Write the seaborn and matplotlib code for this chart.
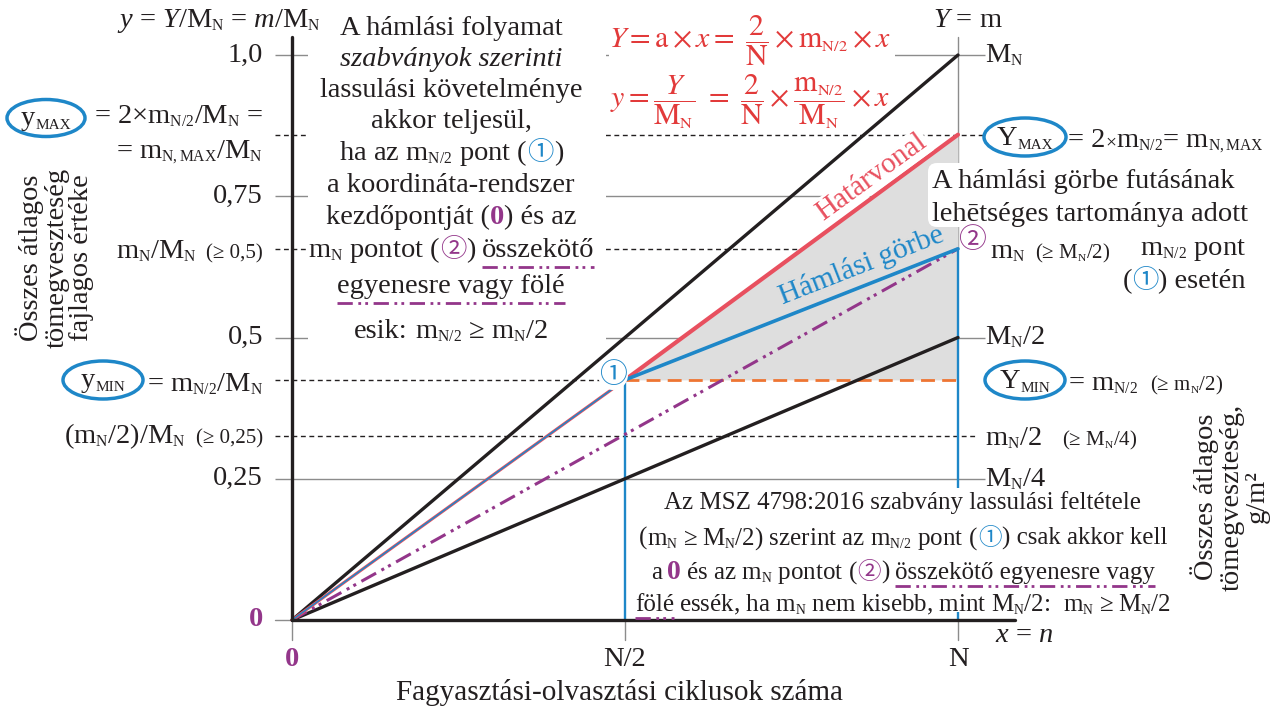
import numpy as np
import pandas as pd
import seaborn as sns
import matplotlib
matplotlib.use("Agg")
import matplotlib.pyplot as plt
import matplotlib._mathtext as _mt
from matplotlib.patches import Ellipse, Rectangle, FancyBboxPatch
from matplotlib.transforms import Affine2D

# ---------------- data ----------------
x_ticks = [0.0, 0.5, 1.0]
x_tick_labels = ["0", "N/2", "N"]
y_grid = [1.0, 0.75, 0.5, 0.25]
y_grid_labels = ["1,0", "0,75", "0,5", "0,25"]
y_grid_right = [r"M$_\mathrm{N}$", None, r"M$_\mathrm{N}$/2", r"M$_\mathrm{N}$/4"]
y_half = 0.425      # y_MIN = m_N/2 / M_N   (point 1)
y_full = 0.657      # m_N / M_N             (point 2)
y_max = 0.859       # y_MAX = 2 m_N/2 / M_N
y_quarter = 0.325   # (m_N/2) / M_N
curve_x = [0.0, 0.5, 1.0]          # Hámlási görbe
curve_y = [0.0, 0.425, 0.657]
limit_x = [0.0, 0.5, 1.0]          # Határvonal
limit_y = [0.0, 0.425, 0.859]
ref_x = [0.0, 1.0]
ref_hi_y = [0.0, 1.0]              # 0 -> M_N
ref_lo_y = [0.0, 0.5]              # 0 -> M_N/2
chord_y = [0.0, 0.657]             # 0 -> point 2

# ---------------- style ----------------
sns.set_theme(style="white")
SERIF = ["Liberation Serif", "DejaVu Serif"]
CJK = ["Noto Sans CJK JP", "DejaVu Sans"]
plt.rcParams["font.family"] = SERIF
plt.rcParams["mathtext.fontset"] = "custom"
plt.rcParams["mathtext.rm"] = "Liberation Serif"
plt.rcParams["mathtext.it"] = "Liberation Serif:italic"
plt.rcParams["mathtext.bf"] = "Liberation Serif:bold"
_mt.SHRINK_FACTOR = 0.55   # small subscripts as in the original drawing

INK = "#231f20"
GREY = "#8c8c8c"
BLUE = "#1e87c8"
RED = "#e8505f"
FRED = "#e23a3a"
PURPLE = "#93368a"
ORANGE = "#ee7533"
FILL = "#dedede"
MF = 20.5
SF = 15
DDOT = (0, (5.5, 2, 1, 1.5, 1, 2))
DASH = (0, (3.5, 2.6))

W, H = 1285, 710
fig = plt.figure(figsize=(W / 100, H / 100), dpi=100)
ax = fig.add_axes([0, 0, 1, 1])
ox, oy, sx, sy = 292, 620, 666, 565
PX = Affine2D().scale(1, -1).translate(0, H)   # pixel coords, origin top-left


def dx(p):
    return (p - ox) / sx


def dy(p):
    return (oy - p) / sy


# ---------------- grid / reference lines ----------------
ax.hlines(y_grid, dx(275), dx(985), color=GREY, lw=1.0, zorder=1)
ax.plot([dx(275), dx(985)], [y_max, y_max], color=INK, lw=1.0, ls=DASH, zorder=1)
ax.plot([dx(275), 1.0], [y_full, y_full], color=INK, lw=1.0, ls=DASH, zorder=1)
ax.plot([dx(275), 0.5], [y_half, y_half], color=INK, lw=1.0, ls=DASH, zorder=1)
ax.plot([dx(275), dx(975)], [y_quarter, y_quarter], color=INK, lw=1.0, ls=DASH, zorder=1)
ax.plot([0.5, 1.0], [y_half, y_half], color=ORANGE, lw=2.0, ls=(0, (5, 2.6)), zorder=3.2)
for xv in x_ticks:
    ax.plot([xv, xv], [0, dy(640)], color=GREY, lw=1.0, zorder=1)
ax.plot([dx(275), 0], [0, 0], color=GREY, lw=1.0, zorder=1)
ax.plot([1.0, 1.0], [y_full, dy(37)], color=GREY, lw=1.0, zorder=1)

# possible range of the curve
ax.fill_between(limit_x[1:], y_half, limit_y[1:], color=FILL, lw=0, zorder=1.5)

# white backgrounds of the text blocks
ax.add_patch(Rectangle((308, 5), 298, 345, transform=PX, fc="white", ec="none", zorder=2))
ax.add_patch(Rectangle((609, 6), 286, 126, transform=PX, fc="white", ec="none", zorder=2))
ax.add_patch(FancyBboxPatch((928, 163), 316, 64, boxstyle="round,pad=0,rounding_size=9",
                            transform=PX, fc="white", ec="none", zorder=2))
ax.add_patch(Rectangle((630, 488), 550, 124, transform=PX, fc="white", ec="none", zorder=3.5))

# ---------------- data lines (seaborn) ----------------
sns.lineplot(x=ref_x, y=ref_hi_y, color=INK, lw=2.4, sort=False, estimator=None, ax=ax, zorder=4)
sns.lineplot(x=ref_x, y=ref_lo_y, color=INK, lw=2.4, sort=False, estimator=None, ax=ax, zorder=4)
ax.plot(ref_x, chord_y, color=PURPLE, lw=2.2, ls=DDOT, zorder=4)
sns.lineplot(x=limit_x[:2], y=limit_y[:2], color=RED, lw=2.2, sort=False, estimator=None, ax=ax, zorder=4.1)
sns.lineplot(x=limit_x[1:], y=limit_y[1:], color=RED, lw=3.0, sort=False, estimator=None, ax=ax, zorder=4.1)
sns.lineplot(x=curve_x[:2], y=curve_y[:2], color=BLUE, lw=1.1, sort=False, estimator=None, ax=ax, zorder=4.2)
sns.lineplot(x=curve_x[1:], y=curve_y[1:], color=BLUE, lw=2.6, sort=False, estimator=None, ax=ax, zorder=4.2)
ax.plot([0, dx(1015)], [0, 0], color=INK, lw=2.4, zorder=4.5)
ax.plot([0, 0], [0, dy(37)], color=INK, lw=2.4, zorder=4.5)
ax.plot([0.5, 0.5], [0, y_half], color=BLUE, lw=1.7, zorder=3)
ax.plot([1.0, 1.0], [0, y_full], color=BLUE, lw=1.7, zorder=3)

# ---------------- text helpers ----------------
R = fig.canvas.get_renderer()


def G(px):
    return (None, {"gap": px})


def rich(parts, x, y, ha="center", fs=MF, ul_off=10, zorder=6):
    items = []
    for s, kw in parts:
        if s is None:
            items.append((None, kw["gap"], kw))
            continue
        t = ax.text(0, y + kw.get("dy", 0), s, transform=PX, fontsize=kw.get("fs", fs),
                    color=kw.get("color", INK), fontweight=kw.get("weight", "normal"),
                    fontstyle=kw.get("style", "normal"), family=kw.get("family", SERIF),
                    ha="left", va="baseline", zorder=zorder)
        w = t.get_window_extent(R).width
        items.append((t, w, kw))
    total = sum(w for _, w, _ in items)
    cur = {"center": x - total / 2, "right": x - total, "left": x}[ha]
    for t, w, kw in items:
        if t is not None:
            t.set_x(cur)
            if kw.get("ul"):
                ax.plot([cur, cur + w], [y + ul_off] * 2, transform=PX, color=PURPLE,
                        lw=2.0, ls=DDOT, zorder=zorder)
        cur += w


def txt(x, y, s, **kw):
    kw.setdefault("fontsize", MF)
    kw.setdefault("color", INK)
    kw.setdefault("zorder", 6)
    return ax.text(x, y, s, transform=PX, **kw)


C1 = {"color": BLUE, "family": CJK, "fs": 19}
C2 = {"color": PURPLE, "family": CJK, "fs": 19}
Z0 = {"color": PURPLE, "weight": "bold"}
UL = {"ul": True}
SUB = {"fs": 11, "dy": 4}

# ---------------- left text block ----------------
block = [
    ([("A hámlási folyamat", {})], 35),
    ([("szabványok szerinti", {"style": "italic"})], 66),
    ([("lassulási követelménye", {})], 97),
    ([("akkor teljesül,", {})], 128),
    ([(r"ha az m$_\mathrm{N/2}$ pont (", {}), ("①", C1), (")", {})], 160),
    ([("a koordináta-rendszer", {})], 192),
    ([("kezdőpontját (", {}), ("0", Z0), (") és az", {})], 224),
    ([(r"m$_\mathrm{N}$ pontot (", {}), ("②", C2), (")", {}), G(6), ("összekötő", UL)], 257),
    ([("egyenesre vagy fölé", UL)], 293),
    ([("esik:", {}), G(7), (r"m$_\mathrm{N/2}$", {}), G(7), ("≥", {}), G(7),
      (r"m$_\mathrm{N}$/2", {})], 338),
]
for parts, yb in block:
    rich(parts, 451, yb)

# ---------------- red formulas ----------------
f1 = r"$Y = \mathrm{a} \times x = \ \dfrac{2}{\mathrm{N}} \times \mathrm{m}_{\mathrm{N/2}} \times x$"
f2 = (r"$y = \dfrac{Y}{\mathrm{M}_{\mathrm{N}}} \ = \ \dfrac{2}{\mathrm{N}} \times "
      r"\dfrac{\mathrm{m}_{\mathrm{N/2}}}{\mathrm{M}_{\mathrm{N}}} \times x$")
txt(750, 41, f1, color=FRED, fontsize=21.5, ha="center", va="center", math_fontfamily="stix")
txt(750, 102, f2, color=FRED, fontsize=21.5, ha="center", va="center", math_fontfamily="stix")

# ---------------- top labels ----------------
txt(219, 27, r"$y$ = $Y$/M$_\mathrm{N}$ = $m$/M$_\mathrm{N}$", ha="center", va="baseline")
txt(933, 27, r"$Y$ = m", ha="left", va="baseline")

# ---------------- left y labels ----------------
for yv, lab in zip(y_grid, y_grid_labels):
    ax.text(dx(263), yv, lab, ha="right", va="center", fontsize=MF, color=INK, zorder=6)
ax.text(dx(263), 0, "0", ha="right", va="center", fontsize=MF, color=PURPLE,
        fontweight="bold", zorder=6)
ax.add_patch(Ellipse((46, 118), 78, 37, transform=PX, fill=False, ec=BLUE, lw=2.5, zorder=6))
rich([("y", {}), ("MAX", SUB)], 46, 125)
txt(263, 123, r"= 2×m$_\mathrm{N/2}$/M$_\mathrm{N}$ =", ha="right", va="baseline")
txt(263, 158, r"= m$_\mathrm{N,MAX}$/M$_\mathrm{N}$", ha="right", va="baseline")
rich([(r"m$_\mathrm{N}$/M$_\mathrm{N}$", {}), G(10), ("(≥ 0,5)", {"fs": SF})], 263, 258, ha="right")
ax.add_patch(Ellipse((103, 380), 80, 38, transform=PX, fill=False, ec=BLUE, lw=2.5, zorder=6))
rich([("y", {}), ("MIN", SUB)], 103, 387)
txt(263, 391, r"= m$_\mathrm{N/2}$/M$_\mathrm{N}$", ha="right", va="baseline")
rich([(r"(m$_\mathrm{N}$/2)/M$_\mathrm{N}$", {}), G(10), ("(≥ 0,25)", {"fs": SF})], 263, 443, ha="right")

# ---------------- right y labels ----------------
for yv, lab in zip(y_grid, y_grid_right):
    if lab:
        ax.text(dx(985), yv, lab, ha="left", va="center", fontsize=MF, color=INK, zorder=6)
ax.add_patch(Ellipse((1025, 137), 82, 38, transform=PX, fill=False, ec=BLUE, lw=2.5, zorder=6))
rich([("Y", {}), ("MAX", SUB)], 1025, 145)
rich([("= 2", {}), ("×", {"fs": 14}), (r"m$_\mathrm{N/2}$= m$_\mathrm{N,MAX}$", {})], 1068, 147, ha="left")
ax.add_patch(Ellipse((1025, 380), 80, 38, transform=PX, fill=False, ec=BLUE, lw=2.5, zorder=6))
rich([("Y", {}), ("MIN", SUB)], 1025, 388)
rich([(r"= m$_\mathrm{N/2}$", {}), G(12), (r"(≥ m$_\mathrm{N}$/2)", {"fs": SF})], 1068, 390, ha="left")
rich([(r"m$_\mathrm{N}$/2", {}), G(20), (r"(≥ M$_\mathrm{N}$/4)", {"fs": SF})], 985, 445, ha="left")
rich([(r"m$_\mathrm{N}$", {}), G(10), (r"(≥ M$_\mathrm{N}$/2)", {"fs": SF})], 990, 258, ha="left")
txt(995, 642, r"$x$ = $n$", ha="left", va="baseline")

# right text block
txt(932, 188, "A hámlási görbe futásának", ha="left", va="baseline")
txt(932, 221, "lehētséges tartománya adott", ha="left", va="baseline")
rich([(r"m$_\mathrm{N/2}$ pont", {})], 1246, 255, ha="right")
rich([("(", {}), ("①", C1), (") esetén", {})], 1246, 288, ha="right")

# ---------------- line labels and points ----------------
txt(872, 177, "Határvonal", color=RED, fontsize=21, rotation=36, rotation_mode="anchor",
    ha="center", va="center", bbox=dict(boxstyle="square,pad=0.05", fc="white", ec="none"))
txt(861, 266, "Hámlási görbe", color=BLUE, fontsize=21.5, rotation=21.4, rotation_mode="anchor",
    ha="center", va="center")
txt(613, 375, "①", color=BLUE, fontsize=20, family=CJK, ha="center", va="center",
    bbox=dict(boxstyle="circle,pad=0", fc="white", ec="none"))
txt(972, 240, "②", color=PURPLE, fontsize=20, family=CJK, ha="center", va="center")

# ---------------- bottom text block ----------------
BF = 18
bottom = [
    ([("Az MSZ 4798:2016 szabvány lassulási feltétele", {})], 509),
    ([("(", {}), (r"m$_\mathrm{N}$", {}), G(5), ("≥", {}), G(5),
      (r"M$_\mathrm{N}$/2) szerint az m$_\mathrm{N/2}$ pont (", {}),
      ("①", dict(C1, fs=17)), (") csak akkor kell", {})], 545),
    ([("a", {}), G(5), ("0", dict(Z0, fs=20)), G(5), (r"és az m$_\mathrm{N}$ pontot (", {}),
      ("②", dict(C2, fs=17)), (")", {}), G(5), ("összekötő egyenesre vagy", UL)], 579),
    ([("fölé", UL), G(5), (r"essék, ha m$_\mathrm{N}$ nem kisebb, mint M$_\mathrm{N}$/2:", {}), G(12),
      (r"m$_\mathrm{N}$", {}), G(5), ("≥", {}), G(5), (r"M$_\mathrm{N}$/2", {})], 611),
]
for parts, yb in bottom:
    rich(parts, 903, yb, fs=BF, ul_off=7)

# ---------------- x labels ----------------
for xv, lab in zip(x_ticks, x_tick_labels):
    ax.text(xv, dy(660), lab, ha="center", va="center", fontsize=MF,
            color=PURPLE if lab == "0" else INK, fontweight="bold" if lab == "0" else "normal",
            zorder=6)
txt(620, 692, "Fagyasztási-olvasztási ciklusok száma", fontsize=21, ha="center", va="center")

# axis titles
txt(55, 258, "Összes átlagos\ntömegveszteség\nfajlagos értéke", rotation=90, ha="center",
    va="center", linespacing=1.0, multialignment="center")
txt(1230, 497, "Összes átlagos\ntömegveszteség,\ng/m²", rotation=90, ha="center",
    va="center", linespacing=1.0, multialignment="center")

ax.set_xlim(-ox / sx, (W - ox) / sx)
ax.set_ylim(-(H - oy) / sy, oy / sy)
ax.axis("off")
fig.savefig("out.png", dpi=100)
